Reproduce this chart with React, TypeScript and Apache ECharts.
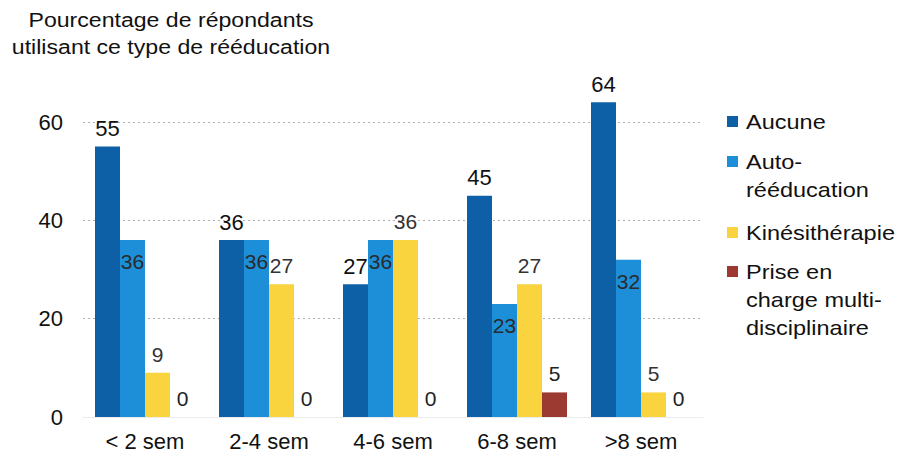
import React, { useEffect, useRef } from "react";
import * as echarts from "echarts";

const categories = ["< 2 sem", "2-4 sem", "4-6 sem", "6-8 sem", ">8 sem"];
const seriesNames = ["Aucune", "Auto-rééducation", "Kinésithérapie", "Prise en charge multi-disciplinaire"];
const legendLines = [["Aucune"], ["Auto-", "rééducation"], ["Kinésithérapie"], ["Prise en", "charge multi-", "disciplinaire"]];
const aucune = [55, 36, 27, 45, 64];
const autoReeducation = [36, 36, 36, 23, 32];
const kinesitherapie = [9, 27, 36, 27, 5];
const priseEnCharge = [0, 0, 0, 5, 0];
const yTicks = [0, 20, 40, 60];
const colors = ["#0d5fa6", "#1c8fd8", "#fad43e", "#9c3a32"];
const titleText = "Pourcentage de répondants\nutilisant ce type de rééducation";

const FONT = "'Liberation Sans', Arial, sans-serif";

export default function App() {
  const ref = useRef<HTMLDivElement>(null);

  useEffect(() => {
    if (!ref.current) return;
    const chart = echarts.init(ref.current, undefined, { renderer: "svg" });

    const valuesList = [aucune, autoReeducation, kinesitherapie, priseEnCharge];
    const labelCfg = [
      { position: "top", distance: 7, fontSize: 22, color: "#111" },
      { position: "insideTop", distance: 11, fontSize: 21, color: "#2a2a2a" },
      { position: "top", distance: 8, fontSize: 21, color: "#333" },
      { position: "top", distance: 8, fontSize: 21, color: "#222" },
    ];

    const series = valuesList.map((vals, i) => ({
      type: "bar",
      name: seriesNames[i],
      data: vals,
      barWidth: 25,
      barGap: "0%",
      clip: false,
      itemStyle: { color: colors[i] },
      label: {
        show: true,
        position: labelCfg[i].position,
        distance: labelCfg[i].distance,
        fontSize: labelCfg[i].fontSize,
        color: labelCfg[i].color,
        fontFamily: FONT,
      },
    }));

    // Legend drawn by hand so the swatch sits beside the first line of each name
    const legendTops = [122, 162, 233, 272];
    const legendGraphics: any[] = [];
    legendLines.forEach((lines, i) => {
      const y0 = legendTops[i];
      legendGraphics.push({
        type: "rect",
        shape: { x: 727, y: y0 - 6, width: 11, height: 11 },
        style: { fill: colors[i] },
      });
      legendGraphics.push({
        type: "text",
        x: 746,
        y: y0 - 14,
        scaleX: 1.12,
        style: {
          text: lines.join("\n"),
          font: `21px ${FONT}`,
          lineHeight: 28,
          fill: "#111",
          textAlign: "left",
          textVerticalAlign: "top",
        },
      });
    });

    chart.setOption({
      animation: false,
      backgroundColor: "#fff",
      grid: { left: 83, right: 204, top: 122, bottom: 49 },
      xAxis: {
        type: "category",
        data: categories,
        axisTick: { show: false },
        axisLine: { show: true, lineStyle: { color: "#ececec" } },
        axisLabel: { fontSize: 22, color: "#111", fontFamily: FONT, margin: 13 },
      },
      yAxis: {
        type: "value",
        min: yTicks[0],
        max: yTicks[yTicks.length - 1],
        interval: yTicks[1] - yTicks[0],
        axisLine: { show: false },
        axisTick: { show: false },
        axisLabel: { fontSize: 22, color: "#111", fontFamily: FONT, margin: 20 },
        splitLine: { show: true, lineStyle: { color: "#b0b0b0", type: [2, 3], width: 1 } },
      },
      series,
      graphic: [
        {
          type: "text",
          x: 171,
          y: 6,
          scaleX: 1.1,
          style: {
            text: titleText,
            font: `21px ${FONT}`,
            lineHeight: 27,
            fill: "#111",
            textAlign: "center",
            textVerticalAlign: "top",
          },
        },
        ...legendGraphics,
      ],
    });

    return () => chart.dispose();
  }, []);

  return <div ref={ref} style={{ width: 907, height: 466, position: "absolute", left: 0, top: 0 }} />;
}
